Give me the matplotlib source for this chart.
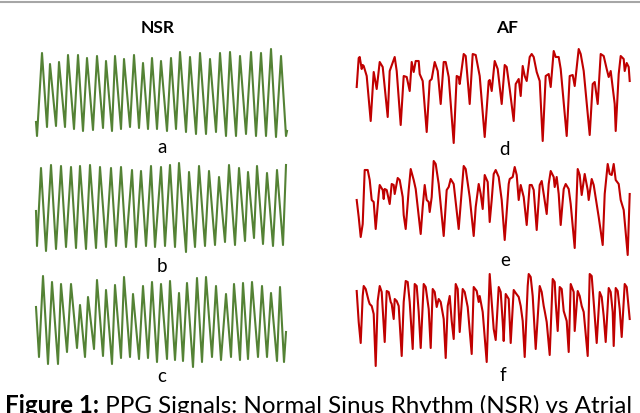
import matplotlib
matplotlib.use('Agg')
import matplotlib.pyplot as plt
from matplotlib.lines import Line2D

# PPG traces: sample position and amplitude (arbitrary units)
# NSR
a_t = [0, 1, 6, 11, 14, 20, 23, 29, 32, 38, 42, 47, 51, 57, 61, 67, 70, 76, 79, 85, 88, 94, 98, 103,
       107, 112, 116, 121, 125, 131, 135, 140, 144, 150, 154, 160, 164, 170, 174, 180, 184, 190, 194,
       200, 204, 210, 215, 220, 225, 230, 235, 240, 245, 250, 251]
a_v = [17, 3, 86, 12, 75, 13, 77, 12, 84, 10, 84, 8, 81, 9, 83, 11, 78, 8, 83, 10, 80, 12, 84, 11,
       76, 10, 81, 10, 78, 8, 81, 10, 87, 7, 82, 5, 86, 5, 80, 7, 86, 3, 87,
       3, 83, 5, 87, 3, 86, 3, 90, 2, 83, 3, 8]

b_t = [0, 1, 5, 10, 15, 20, 25, 30, 35, 40, 44, 50, 54, 60, 64, 70, 75, 80, 85, 90, 96, 100, 105,
       110, 115, 119, 125, 129, 134, 139, 143, 150, 153, 159, 163, 169, 173, 179, 183, 189, 193, 199,
       203, 209, 212, 218, 221, 227, 231, 237, 241, 247, 250]
b_v = [43, 8, 86, 3, 89, 5, 88, 7, 87, 6, 88, 5, 89, 6, 87, 7, 86, 8, 87, 7, 84, 7, 83,
       8, 88, 7, 87, 8, 89, 7, 91, 2, 82, 7, 88, 8, 83, 9, 77, 12, 89, 9,
       86, 13, 82, 16, 88, 10, 81, 8, 84, 9, 89]

c_t = [0, 3, 7, 12, 16, 22, 25, 31, 35, 41, 44, 49, 52, 58, 61, 67, 70, 76, 79, 85, 88, 94, 97, 103,
       107, 112, 116, 121, 125, 131, 134, 139, 143, 147, 151, 157, 161, 166, 170, 176, 180, 185, 190,
       195, 198, 204, 207, 212, 216, 222, 226, 231, 235, 241, 244, 248, 250]
c_v = [62, 12, 93, 5, 87, 5, 85, 17, 85, 21, 64, 12, 72, 20, 89, 13, 79, 5, 84, 11, 92, 12, 75, 10,
       83, 11, 87, 7, 85, 10, 88, 9, 76, 8, 86, 2, 91, 7, 92, 12, 83, 9, 75,
       12, 85, 9, 86, 10, 87, 12, 83, 12, 76, 8, 82, 7, 37]

# AF
d_t = [0, 2, 3, 5, 6, 7, 10, 14, 17, 20, 23, 26, 31, 33, 38, 40, 44, 47, 50, 53, 55, 57, 59, 62, 63,
       66, 70, 73, 75, 78, 81, 84, 87, 89, 92, 97, 100, 102, 103, 107, 109, 113, 116, 119, 123, 128,
       132, 133, 135, 138, 141, 145, 148, 150, 153, 157, 159, 162, 164, 166, 168, 170, 173, 175, 177,
       180, 183, 186, 189, 192, 194, 197, 199, 202, 204, 210, 213, 216, 218, 222, 224, 227, 233, 236,
       238, 241, 244, 247, 250, 252, 254, 258, 259, 262, 264, 267, 268, 270, 272, 273]
d_v = [58, 87, 88, 76, 80, 79, 69, 24, 73, 56, 83, 78, 28, 74, 88, 74, 20, 69, 68, 54, 83, 73, 84, 84, 71,
       64, 13, 64, 66, 83, 74, 41, 83, 83, 68, 2, 69, 68, 61, 91, 89, 41, 91, 90, 69, 8,
       64, 65, 54, 84, 76, 41, 80, 78, 56, 24, 61, 66, 49, 79, 69, 64, 88, 91, 88,
       73, 64, 4, 69, 71, 58, 94, 88, 88, 76, 9, 69, 70, 59, 96, 91, 74, 10, 61,
       63, 41, 91, 89, 76, 68, 74, 41, 14, 71, 89, 86, 74, 82, 78, 64]

e_t = [0, 2, 4, 6, 8, 11, 13, 15, 17, 19, 22, 23, 26, 27, 28, 30, 33, 35, 37, 38, 41, 43, 46, 47, 49,
       52, 54, 57, 59, 64, 66, 68, 70, 72, 73, 75, 77, 79, 82, 87, 90, 92, 94, 97, 102, 107, 109, 113,
       117, 119, 122, 124, 126, 128, 131, 133, 135, 137, 139, 142, 145, 148, 152, 153, 156, 158, 160,
       162, 164, 167, 170, 173, 175, 177, 180, 183, 185, 187, 190, 192, 194, 197, 198, 200, 202, 204,
       207, 209, 212, 214, 218, 221, 223, 225, 228, 231, 232, 235, 237, 242, 246, 248, 251, 253, 255,
       257, 259, 262, 264, 267, 271, 273]
e_v = [57, 40, 20, 33, 87, 87, 77, 57, 55, 28, 63, 72, 67, 58, 68, 67, 53, 73, 72, 63, 79, 77, 60, 42, 28,
       67, 88, 77, 68, 23, 50, 72, 57, 55, 45, 60, 96, 93, 73, 21, 67, 70, 78, 73, 28, 91, 88, 60,
       21, 50, 73, 63, 48, 82, 75, 35, 57, 83, 87, 80, 57, 17, 73, 78, 80, 90, 82,
       57, 72, 60, 32, 72, 72, 67, 27, 72, 76, 63, 43, 73, 86, 80, 70, 80, 63, 32,
       68, 73, 68, 53, 9, 88, 82, 62, 83, 67, 57, 78, 72, 40, 12, 63, 93, 83, 82,
       93, 77, 73, 57, 47, 2, 63]

f_t = [0, 2, 4, 6, 7, 9, 12, 13, 15, 17, 19, 21, 23, 25, 28, 30, 32, 34, 35, 37, 38, 40, 42, 45, 47,
       49, 51, 53, 56, 58, 60, 62, 64, 67, 69, 72, 74, 76, 78, 80, 82, 84, 87, 89, 91, 93, 95, 97, 99,
       101, 103, 106, 108, 111, 115, 117, 120, 122, 123, 126, 130, 133, 135, 137, 139, 142, 144, 146,
       147, 149, 152, 154, 157, 159, 162, 164, 166, 168, 171, 172, 174, 176, 179, 183, 185, 187, 188,
       190, 193, 196, 198, 199, 201, 203, 205, 207, 210, 212, 214, 217, 218, 221, 223, 225, 227, 231,
       233, 235, 237, 240, 243, 245, 247, 249, 252, 254, 256, 257, 259, 261, 263, 265, 268, 270, 273]
f_v = [77, 46, 25, 72, 82, 79, 67, 64, 62, 54, 2, 67, 82, 76, 26, 77, 76, 66, 64, 49, 69, 67, 62, 12, 66,
       87, 86, 66, 19, 84, 82, 56, 20, 84, 81, 59, 20, 79, 76, 61, 69, 66, 49, 10, 62, 72, 47, 29, 84,
       79, 36, 79, 76, 61, 14, 81, 77, 66, 72, 56, 6, 94, 66, 39, 28, 81, 76, 46,
       27, 74, 69, 25, 78, 75, 71, 62, 47, 11, 82, 94, 91, 72, 19, 82, 76, 62, 57,
       46, 13, 89, 86, 66, 37, 81, 79, 57, 47, 16, 84, 76, 37, 77, 72, 62, 56, 12,
       94, 92, 66, 25, 76, 71, 52, 26, 80, 76, 56, 22, 80, 77, 59, 31, 84, 81, 49]

panel_letters = ['a', 'b', 'c', 'd', 'e', 'f']
column_titles = ['NSR', 'AF']
# the reference crops the caption at "Atrial"
caption_bold = 'Figure 1:'
caption_rest = ' PPG Signals: Normal Sinus Rhythm (NSR) vs Atrial'

green = '#548235'
red = '#C00000'

W, H = 640, 414
plt.rcParams['font.family'] = ['Lato', 'DejaVu Sans']
fig = plt.figure(figsize=(W / 100, H / 100), dpi=100)


def panel(left, base, width, t, v, color):
    # axes in pixel units: 1 unit = 1 px
    ax = fig.add_axes([left / W, (H - base) / H, width / W, 100 / H])
    ax.plot(t, v, color=color, lw=1.5, solid_joinstyle='round', clip_on=False)
    ax.set_xlim(0, width)
    ax.set_ylim(0, 100)
    ax.axis('off')
    return ax


panel(36, 140, 251, a_t, a_v, green)
panel(36, 255, 251, b_t, b_v, green)
panel(36, 370, 251, c_t, c_v, green)
panel(356.7, 146, 273, d_t, d_v, red)
panel(356.7, 258, 273, e_t, e_v, red)
panel(356.7, 369, 273, f_t, f_v, red)


def ftext(x, y, s, **kw):
    return fig.text(x / W, 1 - y / H, s, va='baseline', **kw)


ftext(158, 33, column_titles[0], ha='center', fontsize=12.5, fontweight='bold')
ftext(507, 33, column_titles[1], ha='center', fontsize=12.5, fontweight='bold')

letter_pos = [(162, 153), (162, 272.5), (162, 382.5), (505, 155), (505, 266), (503, 381.5)]
for s, (x, y) in zip(panel_letters, letter_pos):
    ftext(x, y, s, ha='center', fontsize=13.5)

# top rule
fig.add_artist(Line2D([0, 1], [1 - 3 / H, 1 - 3 / H], color='#a6a6a6', lw=1.5))

# caption, bold lead-in then regular text
cb = ftext(5, 413.5, caption_bold, ha='left', fontsize=17.4, fontweight='bold')
fig.canvas.draw()
bb = cb.get_window_extent(fig.canvas.get_renderer())
fig.text(bb.x1 / W, 1 - 413.5 / H, caption_rest, va='baseline', ha='left', fontsize=17.4)

fig.savefig('out.png', dpi=100)
